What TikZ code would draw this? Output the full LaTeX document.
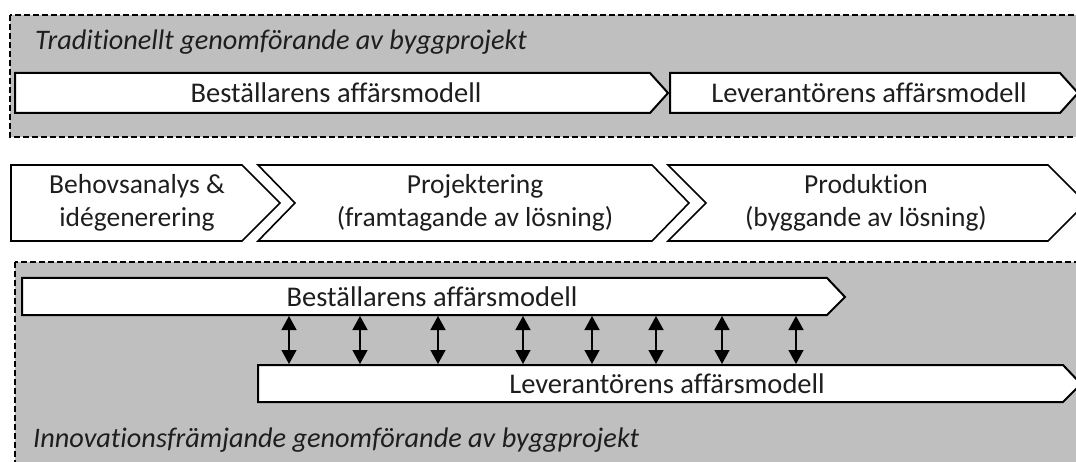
\documentclass[tikz,border=0pt]{standalone}
\usepackage{fontspec}
\setmainfont{Carlito}[Ligatures={NoCommon}]
\usetikzlibrary{arrows.meta}
\definecolor{boxgray}{RGB}{191,191,191}
\definecolor{txt}{RGB}{30,30,30}
\tikzset{
  panel/.style={fill=boxgray, draw=black, line width=1.5pt, dash pattern=on 6pt off 3pt},
  barshape/.style={fill=white, draw=black, line width=2pt, line join=miter},
  stageshape/.style={fill=white, draw=black, line width=1.6pt, line join=miter},
  bartext/.style={font=\fontsize{28.5}{33}\selectfont, text=txt, inner sep=0pt, anchor=center},
  stagetext/.style={font=\fontsize{27.5}{33}\selectfont, text=txt, inner sep=0pt, align=center, anchor=center},
  titletext/.style={font=\fontsize{28.3}{33}\selectfont\itshape, text=txt, inner sep=0pt, anchor=west},
  dbl/.style={line width=1.4pt, {Triangle[width=15pt,length=14pt]}-{Triangle[width=15pt,length=14pt]}}
}
\begin{document}
\begin{tikzpicture}[x=1pt,y=-1pt]
\useasboundingbox (0,0) rectangle (1076,462);
\clip (0,0) rectangle (1076,462);
% top panel
\draw[panel] (10,15) rectangle (1095,137);
\node[titletext] (ttop) at (35,42) {Traditionellt genomförande av byggprojekt};
\draw[barshape] (15,73) -- (650,73) -- (668,93) -- (650,113) -- (15,113) -- cycle;
\node[bartext] (tb) at (336,93) {Beställarens affärsmodell};
\draw[barshape] (670,73) -- (1060,73) -- (1078,93) -- (1060,113) -- (670,113) -- cycle;
\node[bartext] (tl) at (869,93) {Leverantörens affärsmodell};
% stages
\draw[stageshape] (11,165) -- (242,165) -- (280,203) -- (242,241) -- (11,241) -- cycle;
\node[stagetext] (s1) at (137,203) {Behovsanalys \&\\idégenerering};
\draw[stageshape] (258,165) -- (652,165) -- (689,203) -- (652,241) -- (258,241) -- (295,203) -- cycle;
\node[stagetext] (s2) at (475,203) {Projektering\\(framtagande av lösning)};
\draw[stageshape] (668,165) -- (1048,165) -- (1086,203) -- (1048,241) -- (668,241) -- (706,203) -- cycle;
\node[stagetext] (s3) at (866,203) {Produktion\\(byggande av lösning)};
% bottom panel
\draw[panel] (15,262) rectangle (1095,475);
\draw[barshape] (22,278) -- (827,278) -- (845,297) -- (827,315) -- (22,315) -- cycle;
\node[bartext] (bb) at (432,297) {Beställarens affärsmodell};
\draw[barshape] (258,365) -- (1063,365) -- (1081,384) -- (1063,402) -- (258,402) -- cycle;
\node[bartext] (bl) at (667,384) {Leverantörens affärsmodell};
\foreach \x [count=\i] in {289,360,438,523,592,656,722,796} {
  \coordinate (u\i) at (\x,316);
  \coordinate (d\i) at (\x,364);
  \draw[dbl] (u\i) -- (d\i);
}
\node[titletext] (tbot) at (33,440) {Innovationsfrämjande genomförande av byggprojekt};
\end{tikzpicture}
\end{document}
